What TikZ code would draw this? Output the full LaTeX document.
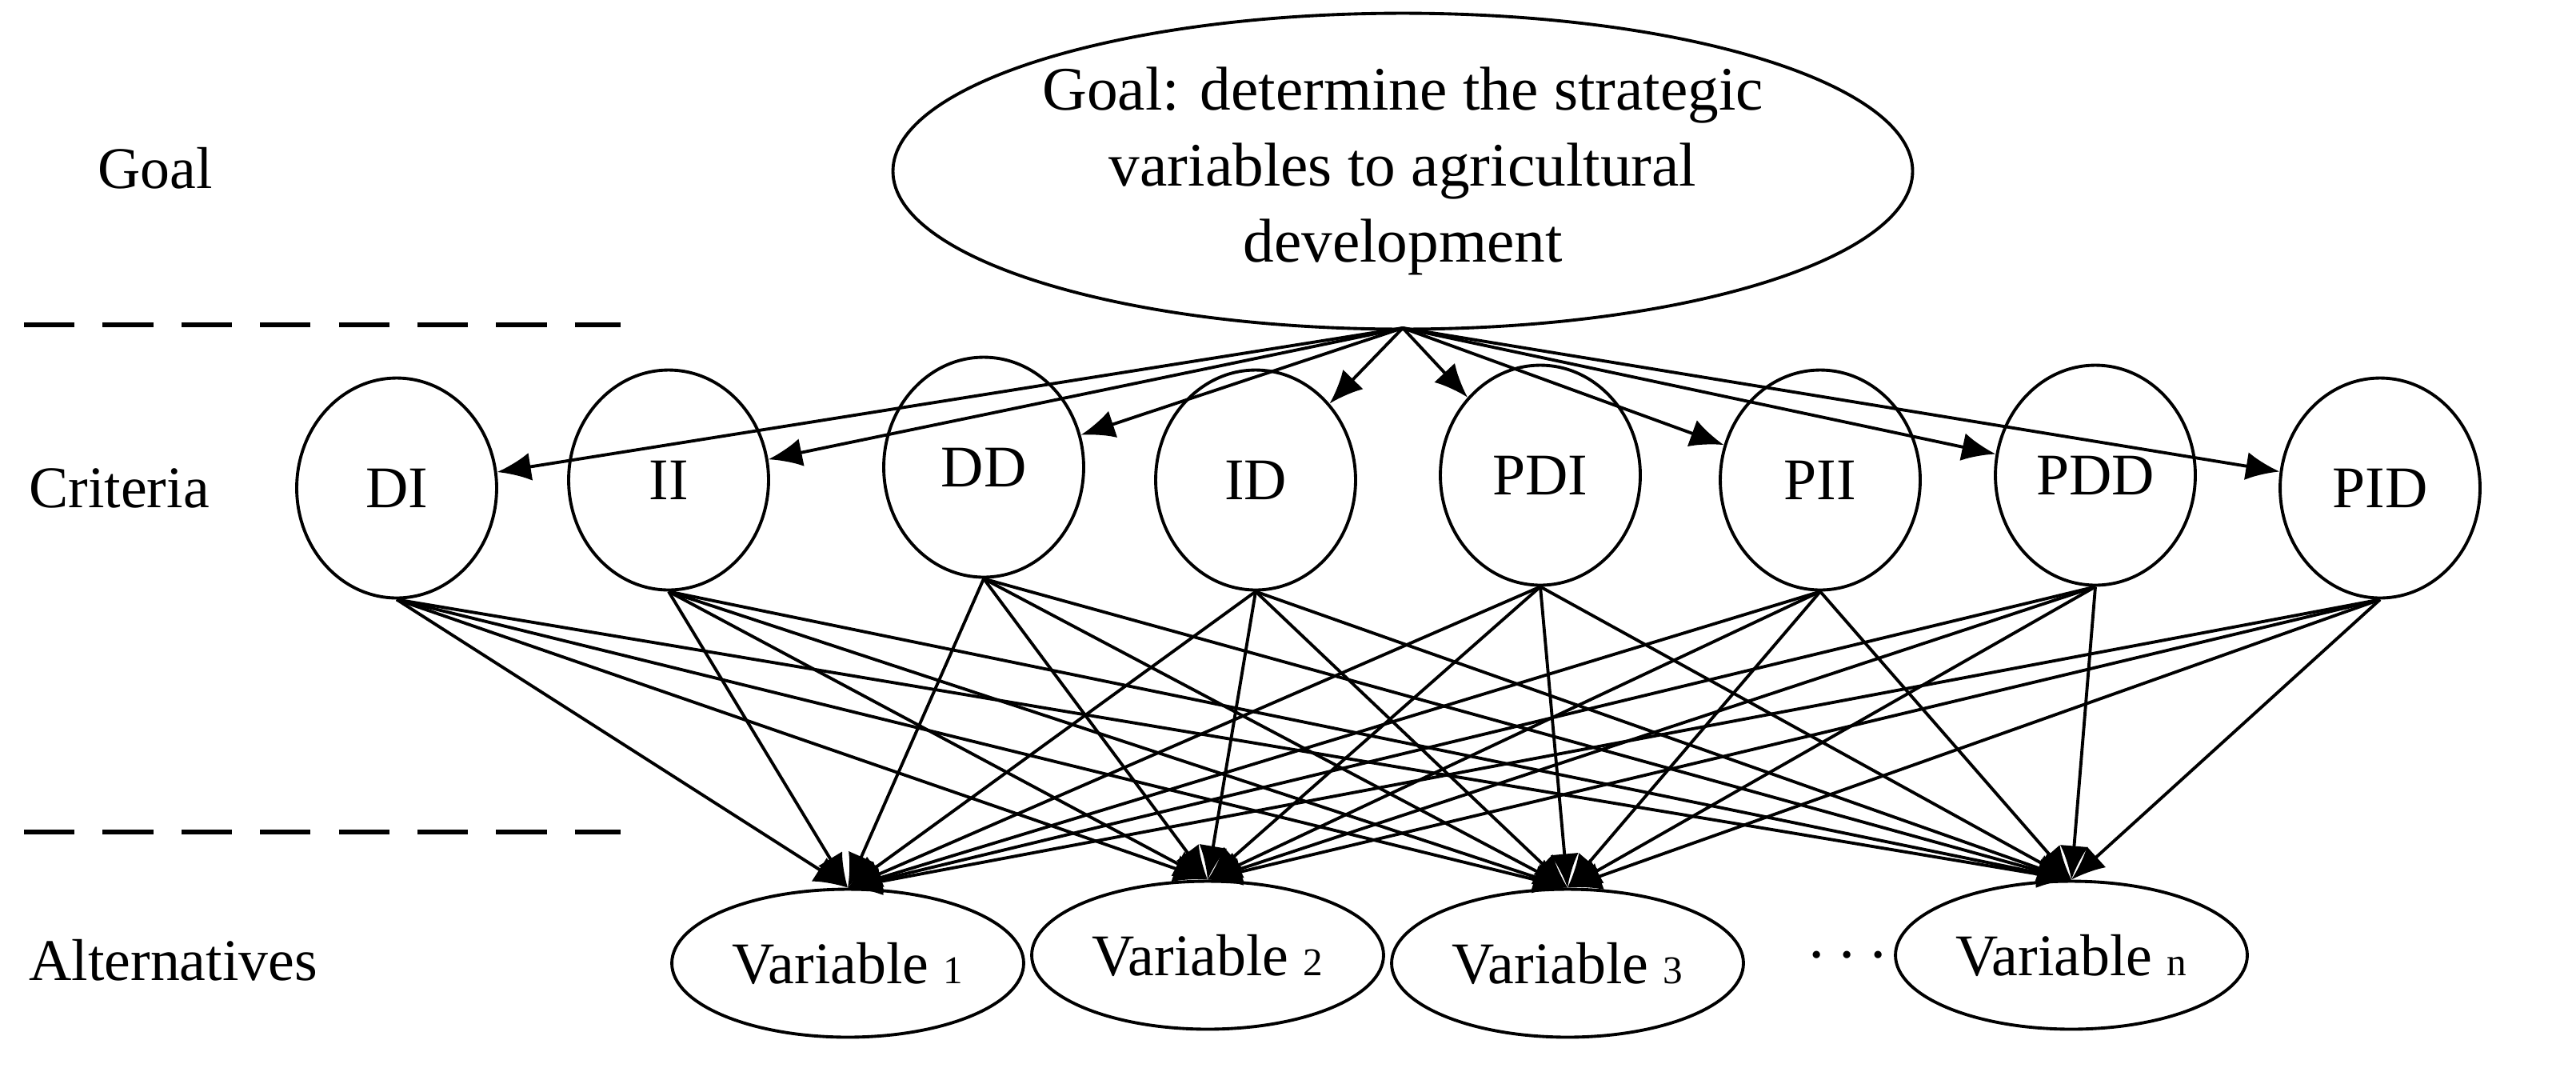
\documentclass[tikz,border=0pt]{standalone}
\usepackage{fontspec}
\setmainfont{Liberation Serif}
\usetikzlibrary{shapes.geometric,arrows.meta}
\begin{document}
\begin{tikzpicture}[x=0.02cm,y=-0.02cm,
  ell/.style={draw,ellipse,line width=1.1pt,inner sep=0pt,font=\fontsize{21}{24}\selectfont},
  crit/.style={ell,minimum width=2.5cm,minimum height=2.75cm},
  alt/.style={ell,minimum width=4.4cm,minimum height=1.85cm},
  lab/.style={anchor=west,font=\fontsize{21}{24}\selectfont},
  arr/.style={-{Latex[length=12pt,width=10pt]},line width=1.1pt},
  dsh/.style={line width=1.6pt,dash pattern=on 18pt off 10pt}]
\useasboundingbox (0,0) rectangle (1610.5,677);
\node[ell,minimum width=11.5cm,minimum height=3.95cm,align=center,font=\fontsize{22}{27}\selectfont] (goal) at (877,107) {Goal: determine the strategic\\variables to agricultural\\development};
\coordinate (apex) at (877,205);
\node[lab] (lg) at (55,105) {Goal};
\node[lab] (lc) at (12,305) {Criteria};
\node[lab] (la) at (12,600) {Alternatives};
\coordinate (d1a) at (15,203); \coordinate (d1b) at (388,203);
\coordinate (d2a) at (15,520); \coordinate (d2b) at (388,520);
\draw[dsh] (d1a) -- (d1b);
\draw[dsh] (d2a) -- (d2b);
\node[crit] (c1) at (248,305) {DI};
\node[crit] (c2) at (418,300) {II};
\node[crit] (c3) at (615,292) {DD};
\node[crit] (c4) at (785,300) {ID};
\node[crit] (c5) at (963,297) {PDI};
\node[crit] (c6) at (1138,300) {PII};
\node[crit] (c7) at (1310,297) {PDD};
\node[crit] (c8) at (1488,305) {PID};
\node[alt] (v1) at (530,602) {Variable {\fontsize{14}{16}\selectfont 1}};
\node[alt] (v2) at (755,597) {Variable {\fontsize{14}{16}\selectfont 2}};
\node[alt] (v3) at (980,602) {Variable {\fontsize{14}{16}\selectfont 3}};
\node[font=\fontsize{24}{26}\selectfont] (dots) at (1155,598) {$\cdots$};
\node[alt] (vn) at (1295,597) {Variable {\fontsize{14}{16}\selectfont n}};
\foreach \c in {c1,c2,c3,c4,c5,c6,c7,c8} \draw[arr] (apex) -- (\c);
\foreach \c in {c1,c2,c3,c4,c5,c6,c7,c8}
  \foreach \v in {v1,v2,v3,vn}
    \draw[arr] (\c.south) -- (\v.north);
\end{tikzpicture}
\end{document}
